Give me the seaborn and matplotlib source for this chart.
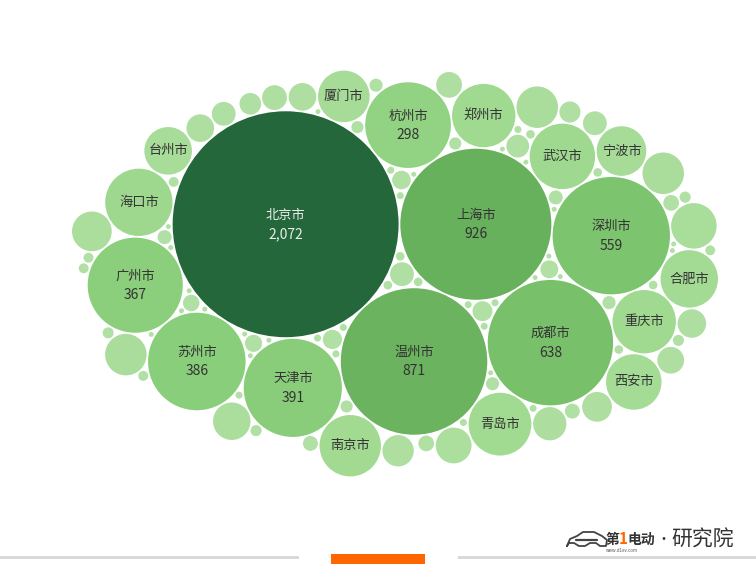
import numpy as np
import pandas as pd
import matplotlib
matplotlib.use("Agg")
import matplotlib.pyplot as plt
from matplotlib.colors import LinearSegmentedColormap
from matplotlib.patches import Rectangle
import seaborn as sns

# named cities (values printed only for the big ones)
cities = ["北京市", "上海市", "温州市", "成都市", "深圳市", "天津市", "苏州市",
          "广州市", "杭州市", "海口市", "武汉市", "郑州市", "重庆市", "青岛市",
          "南京市", "合肥市", "西安市", "厦门市", "宁波市", "台州市"]
city_values = [2072, 926, 871, 638, 559, 391, 386,
               367, 298, 184, 174, 163, 163, 160,
               153, 134, 125, 108, 100, 92]

# unnamed bubbles, estimated from their size
other_values = [84, 70, 70, 70, 64, 57, 52, 45, 40, 36, 33, 31, 31, 29, 27, 25,
                23, 23, 23, 21, 19, 18, 16, 15, 14, 13, 12, 11, 10, 10, 9, 9,
                8, 8, 7, 7, 7, 6, 6, 6, 5, 5, 5, 5, 4, 4, 4, 4, 4, 3, 3, 3,
                3, 3, 3, 3, 2, 2, 2, 2, 2, 2, 2, 2, 2, 2, 2, 2, 1, 1, 1, 1,
                1, 1, 1, 1, 1, 1, 1, 1, 1, 1, 1, 1, 1, 1, 1, 1]

# sequential green like Tableau's
green_colors = ["#B1E0A4", "#A2DA92", "#8ACE7B", "#7DC46F", "#67B05C", "#23673B"]
green_stops = [0.0, 0.07, 0.18, 0.27, 0.45, 1.0]


def pack_circles(radii, aspect=1.35, gap=0.35, n_angles=36):
    # greedy packing: biggest first, each new circle goes to the free
    # tangent spot closest (elliptic distance) to the weighted centre
    rr = np.asarray(radii, float) + gap
    order = np.argsort(-rr, kind="stable")
    pos = np.zeros((len(rr), 2))
    P = np.zeros((0, 2))
    R = np.zeros(0)
    th = np.linspace(0, 2 * np.pi, n_angles, endpoint=False)
    ring = np.column_stack([np.cos(th), np.sin(th)])
    for idx in order:
        r = rr[idx]
        if len(R) == 0:
            p = np.zeros(2)
        else:
            cands = [(P[:, None, :] + (R[:, None, None] + r) * ring[None]).reshape(-1, 2)]
            if len(R) > 1:
                i, j = np.triu_indices(len(R), 1)
                dv = P[j] - P[i]
                d = np.hypot(dv[:, 0], dv[:, 1])
                a = R[i] + r
                b = R[j] + r
                ok = (d < a + b) & (d > np.abs(a - b))
                i, dv, d, a, b = i[ok], dv[ok], d[ok], a[ok], b[ok]
                u = dv / d[:, None]
                x = (a ** 2 - b ** 2 + d ** 2) / (2 * d)
                h = np.sqrt(np.maximum(a ** 2 - x ** 2, 0))
                base = P[i] + u * x[:, None]
                perp = np.column_stack([-u[:, 1], u[:, 0]])
                cands += [base + perp * h[:, None], base - perp * h[:, None]]
            C = np.vstack(cands)
            dist = np.hypot(C[:, None, 0] - P[None, :, 0], C[:, None, 1] - P[None, :, 1])
            C = C[np.all(dist >= R[None, :] + r - 1e-6, axis=1)]
            w = R ** 2
            c0 = (P * w[:, None]).sum(0) / w.sum()
            score = (C[:, 0] - c0[0]) ** 2 + (aspect * (C[:, 1] - c0[1])) ** 2
            p = C[np.argmin(score)]
        pos[idx] = p
        P = np.vstack([P, p])
        R = np.append(R, r)
    return pos


values = np.array(city_values + other_values, float)
labels = cities + [""] * len(other_values)
radius = np.sqrt(values)
xy = pack_circles(radius, aspect=1.7)

# fit the cluster into the chart area (pixel coords, y down)
box_l, box_r, box_t, box_b = 72, 718, 35, 512
lo = (xy - radius[:, None]).min(0)
hi = (xy + radius[:, None]).max(0)
k = min((box_r - box_l) / (hi[0] - lo[0]), (box_b - box_t) / (hi[1] - lo[1]))
mid = (lo + hi) / 2
df = pd.DataFrame({
    "x": (box_l + box_r) / 2 + k * (xy[:, 0] - mid[0]),
    "y": (box_t + box_b) / 2 + k * (xy[:, 1] - mid[1]),
    "value": values,
    "label": labels,
})

sns.set_style("white")
plt.rcParams["font.family"] = ["Noto Sans CJK SC", "DejaVu Sans"]

fig = plt.figure(figsize=(7.56, 5.86), dpi=100)
ax = fig.add_axes([0, 0, 1, 1])

cmap = LinearSegmentedColormap.from_list("tab_green", list(zip(green_stops, green_colors)))
# marker area in pt^2 so that the drawn radius is k*sqrt(value) pixels
s_per_value = (2 * k * 0.72) ** 2
vmin, vmax = values.min(), values.max()
sns.scatterplot(data=df, x="x", y="y", size="value", hue="value",
                sizes=(s_per_value * vmin, s_per_value * vmax), size_norm=(vmin, vmax),
                palette=cmap, hue_norm=(0, vmax), linewidth=0, edgecolor="none",
                legend=False, ax=ax)

for _, row in df[df["label"] != ""].iterrows():
    color = "#EDEDED" if row["value"] > 1500 else "#333333"
    if row["value"] >= 250:
        ax.text(row["x"], row["y"] - 9, row["label"], ha="center", va="center",
                fontsize=9.5, color=color)
        ax.text(row["x"], row["y"] + 10, f"{int(row['value']):,}", ha="center",
                va="center", fontsize=10, color=color)
    else:
        ax.text(row["x"], row["y"], row["label"], ha="center", va="center",
                fontsize=9.5, color=color)

# footer bars
ax.add_patch(Rectangle((0, 555.5), 299, 3, color="#D9D9D9", lw=0))
ax.add_patch(Rectangle((458, 555.5), 298, 3, color="#D9D9D9", lw=0))
ax.add_patch(Rectangle((331, 554), 94, 9.5, color="#FF6600", lw=0))

# logo: rough car outline + wordmark
car_x = [567, 570, 577, 583, 594, 602, 607, 606, 600, 596, 590, 585, 579, 574, 569, 567]
car_y = [546, 539, 536, 532, 532, 536, 540, 546, 546, 543, 543, 546, 546, 543, 543, 546]
ax.plot(car_x, car_y, color="#444444", lw=1.3, solid_joinstyle="round")
ax.plot([576, 597], [539.5, 539.5], color="#444444", lw=1.6)
ax.text(622, 550, "www.d1ev.com", fontsize=3.2, color="#555555", ha="center",
        va="center", style="italic")
t1 = ax.text(605, 540, "第", fontsize=10, fontweight="bold", color="#333333",
             va="center", ha="left", style="italic")
t2 = ax.annotate("1", xy=(1, 0), xycoords=t1, va="bottom", fontsize=11,
                 fontweight="bold", color="#FF6600", style="italic")
ax.annotate("电动", xy=(1, 0), xycoords=t2, va="bottom", fontsize=10,
            fontweight="bold", color="#333333", style="italic")
ax.text(664, 540, "•", fontsize=10, color="#333333", ha="center", va="center")
ax.text(671, 540, "研究院", fontsize=15, color="#333333", ha="left", va="center")

ax.set_xlim(0, 756)
ax.set_ylim(586, 0)
ax.set_aspect("equal")
ax.axis("off")

plt.savefig("out.png", dpi=100)
plt.close()
